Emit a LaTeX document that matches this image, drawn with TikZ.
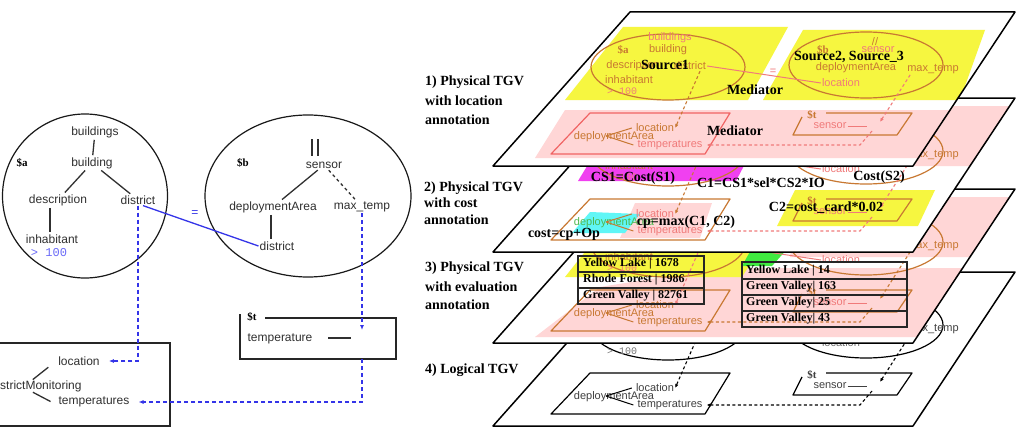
\documentclass[tikz,border=0pt]{standalone}
\usepackage{fontspec}
\setmainfont{Liberation Serif}
\setsansfont{Liberation Sans}
\setmonofont{Liberation Mono}
\usetikzlibrary{arrows.meta,shapes.geometric}
\definecolor{orng}{HTML}{C87832}
\definecolor{pnk}{HTML}{F07A7A}
\definecolor{pnkedge}{HTML}{F06464}
\definecolor{pnkfill}{HTML}{FFD6D6}
\definecolor{yel}{HTML}{F6F640}
\definecolor{mag}{HTML}{F040F0}
\definecolor{cyn}{HTML}{60F6F6}
\definecolor{grn}{HTML}{40EA40}
\definecolor{depgreen}{HTML}{50B850}
\definecolor{blu}{HTML}{3434E8}
\definecolor{blutxt}{HTML}{6A6AF8}
\definecolor{txt}{HTML}{303030}
\tikzset{
 lt/.style={font=\sffamily\fontsize{12}{12}\selectfont, text=txt, inner sep=1pt},
 rt/.style={font=\sffamily\fontsize{11}{11}\selectfont, inner sep=1pt},
 var/.style={font=\bfseries\fontsize{11}{11}\selectfont, inner sep=1pt},
 mono/.style={font=\ttfamily\fontsize{10}{10}\selectfont, inner sep=1pt},
 bl/.style={font=\bfseries\fontsize{14}{14}\selectfont, inner sep=1pt},
 ttl/.style={font=\bfseries\fontsize{14}{14}\selectfont, inner sep=0pt, anchor=west},
 tb/.style={font=\bfseries\fontsize{12}{12}\selectfont, inner sep=0pt, anchor=west},
 tree/.style={draw=txt, line width=1.3pt, shorten <=1pt, shorten >=1pt},
 bluedash/.style={draw=blu, line width=1.4pt, dash pattern=on 4pt off 3pt, -{Latex[length=5pt,width=4pt]}},
 planeedge/.style={draw=black, line width=1.5pt, line join=round},
 ellbase/.style={ellipse, minimum width=154pt, minimum height=66pt, inner sep=0pt, line width=1.2pt},
 boxbase/.style={line width=1.2pt, line join=round},
 dashbase/.style={dash pattern=on 3pt off 2.5pt, line width=1.1pt, -{Latex[length=4pt,width=3.5pt]}},
 tablebox/.style={draw=black!85, line width=1.2pt},
 ell/.style={ellbase,draw=orng},
 tA/.style={text=orng}, tB/.style={text=pnk},
 bxL/.style={boxbase,draw=pnkedge}, bxR/.style={boxbase,draw=orng},
 cLoc/.style={text=orng}, cDep/.style={text=orng}, cTemp/.style={text=pnk}, cSens/.style={text=pnk},
 forkline/.style={draw=orng,line width=1pt}, sensline/.style={draw=pnk,line width=1pt},
 dA/.style={dashbase,draw=orng}, dB/.style={dashbase,draw=pnk},
 eqc/.style={draw=pnk,line width=1pt}
}
\newcommand\tgvlayer[1]{%
 \node[ell] (#1ea) at (668,67) {};
 \node[ell] (#1eb) at (866,65) {};
 \node[rt,tB] (#1buildings) at (670,38) {buildings};
 \node[rt,tA] (#1building) at (668,50) {building};
 \node[var,tA] (#1va) at (623,50) {\$a};
 \node[rt,tA] (#1descr) at (633,66) {description};
 \node[rt,tA] (#1distr) at (690,66) {district};
 \node[rt,tA] (#1inhab) at (629,80) {inhabitant};
 \node[mono,tB] (#1gt) at (622,91) {> 100};
 \node[rt,tA] (#1slash) at (875,42) {//};
 \node[var,tA] (#1vb) at (823,50) {\$b};
 \node[rt,tB] (#1sensor) at (878,50) {sensor};
 \node[rt,tA] (#1depb) at (856,68) {deploymentArea};
 \node[rt,tA] (#1maxt) at (933,69) {max\_temp};
 \node[rt,tB] (#1locb) at (841,83) {location};
 \draw[eqc] (#1distr.east) -- (#1locb.west);
 \node[rt,tB] (#1eq) at (773,72) {=};
 \draw[bxL] (590,113) -- (730,113) -- (705,154) -- (551,154) -- cycle;
 \node[rt,cLoc] (#1loc) at (655,128) {location};
 \node[rt,cDep] (#1dep) at (614,137) {deploymentArea};
 \node[rt,cTemp] (#1temp) at (670,145) {temperatures};
 \coordinate (#1fork) at (606,136);
 \draw[forkline] (#1fork) -- ([xshift=-3pt]#1loc.west);
 \draw[forkline] (#1fork) -- ([xshift=-3pt]#1temp.west);
 \draw[bxR] (826,113) -- (912,113) -- (897,135) -- (793,135) -- (802,117);
 \node[var,tA] (#1vt) at (812,115) {\$t};
 \node[rt,cSens] (#1sens) at (830,126) {sensor};
 \coordinate (#1send) at (867,126);
 \draw[sensline] (#1sens.east) -- (#1send);
 \draw[dA] ([xshift=10pt]#1distr.south) -- (#1loc.east);
 \coordinate (#1tin) at (880,122);
 \draw[dB] ([xshift=4pt]#1maxt.south west) -- (#1tin);
 \coordinate (#1tout) at (872,131);
 \draw[dB] (#1tout) -- ++(-12,14) -- ([xshift=3pt]#1temp.east);
}
\begin{document}
\begin{tikzpicture}[x=1pt,y=-1pt]
\useasboundingbox (0,0) rectangle (1020,428);
\fill[white] (0,0) rectangle (1020,428);

% ---------------- left: two source TGVs and target ----------------
\node[draw=black!90, ellipse, line width=1.2pt, minimum width=165pt, minimum height=164pt, inner sep=0pt] (ca) at (85,196) {};
\node[lt] (buildings) at (95,132) {buildings};
\node[lt] (building) at (92,163) {building};
\node[var,text=black] (va) at (22,163) {\$a};
\node[lt] (description) at (58,200) {description};
\node[lt] (districta) at (138,200) {district};
\node[lt] (inhabitant) at (52,239) {inhabitant};
\node[font=\ttfamily\fontsize{12}{12}\selectfont, text=blutxt, inner sep=1pt] (gt) at (49,253) {> 100};
\draw[tree] (buildings) -- (building);
\draw[tree] (building) -- (description);
\draw[tree] (building) -- (districta);
\draw[tree] ([xshift=-8pt]description.south) -- ([xshift=-2pt]inhabitant.north);

\node[draw=black!90, ellipse, line width=1.2pt, minimum width=206pt, minimum height=162pt, inner sep=0pt] (cb) at (308,196) {};
\draw[tree] (312,138) -- (312,157);
\draw[tree] (318,138) -- (318,157);
\node[var,text=black] (vb) at (243,163) {\$b};
\node[lt] (sensor) at (324,165) {sensor};
\node[lt] (deploy) at (273,207) {deploymentArea};
\node[lt] (maxtemp) at (362,207) {max\_temp};
\node[lt] (districtb) at (277,246) {district};
\draw[tree] (sensor) -- (deploy);
\draw[tree, dashed] (sensor) -- (maxtemp);
\draw[tree] ([xshift=-2pt]deploy.south) -- ([xshift=-6pt]districtb.north);

\draw[draw=blu, line width=1.3pt] ([xshift=5pt]districta.south) -- (districtb.west);
\node[font=\sffamily\fontsize{12}{12}\selectfont, text=blu, inner sep=1pt] (eq0) at (195,214) {=};

% target $t
\draw[line width=1.3pt, draw=black!85] (265,318) -- (396,318) -- (396,359) -- (240,359) -- (240,314);
\node[var,text=black] (vt0) at (252,317) {\$t};
\node[lt] (temperature) at (280,339) {temperature};
\coordinate (tl1) at (327,338);
\coordinate (tl2) at (352,338);
\draw[tree] (tl1) -- (tl2);

% result box
\draw[line width=1.3pt, draw=black!85] (-2,343) -- (170,343) -- (170,426) -- (-2,426);
\node[lt, anchor=west, inner sep=0pt] (dm) at (0,386) {strictMonitoring};
\node[lt] (loc0) at (79,361) {location};
\node[lt] (temp0) at (94,402) {temperatures};
\draw[tree] ([xshift=32pt]dm.north west) -- ([xshift=-8pt]loc0.south west);
\draw[tree] ([xshift=32pt]dm.south west) -- ([xshift=-6pt]temp0.west);

% blue mappings
\draw[bluedash] (districta.south) -- (districta.south |- loc0) -- ([xshift=8pt]loc0.east);
\coordinate (tin0) at (362,330);
\draw[bluedash] (maxtemp.south) -- (tin0);
\coordinate (tout0) at (362,359);
\draw[bluedash] (tout0) -- (tout0 |- temp0) -- ([xshift=8pt]temp0.east);

% ---------------- right: titles ----------------
\node[ttl] (t1a) at (425,82) {1) Physical TGV};
\node[ttl] (t1b) at (425,101) {with location};
\node[ttl] (t1c) at (425,120) {annotation};
\node[ttl] (t2a) at (424,188) {2) Physical TGV};
\node[ttl] (t2b) at (424,203) {with cost};
\node[ttl] (t2c) at (424,220) {annotation};
\node[ttl] (t3a) at (425,268) {3) Physical TGV};
\node[ttl] (t3b) at (425,287) {with evaluation};
\node[ttl] (t3c) at (425,305) {annotation};
\node[ttl] (t4a) at (425,370) {4) Logical TGV};

% ---------------- plane 4: logical TGV ----------------
\begin{scope}
 \tikzset{ell/.style={ellbase,draw=black}, tA/.style={text=black!75}, tB/.style={text=black!55},
  bxL/.style={boxbase,draw=black}, bxR/.style={boxbase,draw=black},
  cLoc/.style={text=black!75}, cDep/.style={text=black!75}, cTemp/.style={text=black!75}, cSens/.style={text=black!75},
  forkline/.style={draw=black,line width=1pt}, sensline/.style={draw=black!75,line width=1pt},
  dA/.style={dashbase,draw=black}, dB/.style={dashbase,draw=black}, eqc/.style={draw=black!55,line width=1pt}}
 \fill[white] (630,272) -- (1015,272) -- (913,426) -- (493,426) -- cycle;
 \begin{scope}
  \clip (630,272) -- (1015,272) -- (913,426) -- (493,426) -- cycle;
  \begin{scope}[shift={(0,260)}] \tgvlayer{d} \end{scope}
 \end{scope}
 \draw[planeedge] (630,272) -- (1015,272) -- (913,426) -- (493,426) -- cycle;
\end{scope}

% ---------------- plane 3: evaluation ----------------
\begin{scope}
 \tikzset{bxL/.style={boxbase,draw=orng}, cTemp/.style={text=orng}, dA/.style={dashbase,draw=pnk}, dB/.style={dashbase,draw=orng}}
 \fill[white] (630,189) -- (1015,189) -- (913,343) -- (493,343) -- cycle;
 \begin{scope}
  \clip (630,189) -- (1015,189) -- (913,343) -- (493,343) -- cycle;
  \fill[pnkfill] (600,287) -- (720,268) -- (1005,268) -- (965,337) -- (535,337) -- cycle;
  \fill[pnkfill] (800,197) -- (1010,197) -- (980,257) -- (790,257) -- cycle;
  \fill[yel] (623,204) -- (788,204) -- (742,277) -- (565,277) -- cycle;
  \fill[grn] (752,248) -- (788,248) -- (772,266) -- (742,266) -- cycle;
  \begin{scope}[shift={(0,177)}] \tgvlayer{c} \end{scope}
  \draw[tablebox] (578,256) rectangle (704,304);
  \draw[tablebox] (578,272) -- (704,272);
  \draw[tablebox] (578,288) -- (704,288);
  \node[tb] (r11) at (583,264) {Yellow Lake | 1678};
  \node[tb] (r12) at (583,280) {Rhode Forest | 1986};
  \node[tb] (r13) at (583,296) {Green Valley | 82761};
  \draw[tablebox] (742,262) rectangle (907,327);
  \draw[tablebox] (742,279) -- (907,279);
  \draw[tablebox] (742,295) -- (907,295);
  \draw[tablebox] (742,311) -- (907,311);
  \node[tb] (r21) at (746,271) {Yellow Lake | 14};
  \node[tb] (r22) at (746,287) {Green Valley| 163};
  \node[tb] (r23) at (746,303) {Green Valley| 25};
  \node[tb] (r24) at (746,319) {Green Valley| 43};
 \end{scope}
 \draw[planeedge] (630,189) -- (1015,189) -- (913,343) -- (493,343) -- cycle;
\end{scope}

% ---------------- plane 2: cost ----------------
\begin{scope}
 \tikzset{bxL/.style={boxbase,draw=orng}, cLoc/.style={text=pnk}, cDep/.style={text=depgreen}, cTemp/.style={text=pnk}}
 \fill[white] (630,98) -- (1015,98) -- (913,252) -- (493,252) -- cycle;
 \begin{scope}
  \clip (630,98) -- (1015,98) -- (913,252) -- (493,252) -- cycle;
  \fill[pnkfill] (800,106) -- (1010,106) -- (980,166) -- (790,166) -- cycle;
  \fill[mag] (592,158) -- (748,158) -- (736,181) -- (578,181) -- cycle;
  \fill[pnkfill] (635,203) -- (712,203) -- (700,238) -- (620,238) -- cycle;
  \fill[cyn] (590,212) -- (640,214) -- (625,233) -- (572,233) -- cycle;
  \fill[yel] (795,190) -- (935,190) -- (918,226) -- (777,226) -- cycle;
  \begin{scope}[shift={(0,86)}] \tgvlayer{b} \end{scope}
  \node[bl] (cs1) at (633,178) {CS1=Cost(S1)};
  \node[bl] (c1) at (761,183) {C1=CS1*sel*CS2*IO};
  \node[bl] (cs2) at (879,177) {Cost(S2)};
  \node[bl] (c2) at (826,208) {C2=cost\_card*0.02};
  \node[bl] (cp) at (686,222) {cp=max(C1, C2)};
  \node[bl] (cost) at (564,234) {cost=cp+Op};
 \end{scope}
 \draw[planeedge] (630,98) -- (1015,98) -- (913,252) -- (493,252) -- cycle;
\end{scope}

% ---------------- plane 1: location ----------------
\begin{scope}
 \fill[white] (630,12) -- (1015,12) -- (913,166) -- (493,166) -- cycle;
 \begin{scope}
  \clip (630,12) -- (1015,12) -- (913,166) -- (493,166) -- cycle;
  \fill[yel] (623,27) -- (788,27) -- (748,100) -- (565,100) -- cycle;
  \fill[yel] (803,30) -- (985,30) -- (960,100) -- (763,100) -- cycle;
  \fill[pnkfill] (565,110) -- (995,110) -- (960,158) -- (535,158) -- cycle;
  \begin{scope}[shift={(0,0)}] \tgvlayer{a} \end{scope}
  \node[bl] (src1) at (665,65) {Source1};
  \node[bl] (src2) at (849,57) {Source2, Source\_3};
  \node[bl] (med1) at (755,90) {Mediator};
  \node[bl] (med2) at (735,131) {Mediator};
 \end{scope}
 \draw[planeedge] (630,12) -- (1015,12) -- (913,166) -- (493,166) -- cycle;
\end{scope}
\end{tikzpicture}
\end{document}
